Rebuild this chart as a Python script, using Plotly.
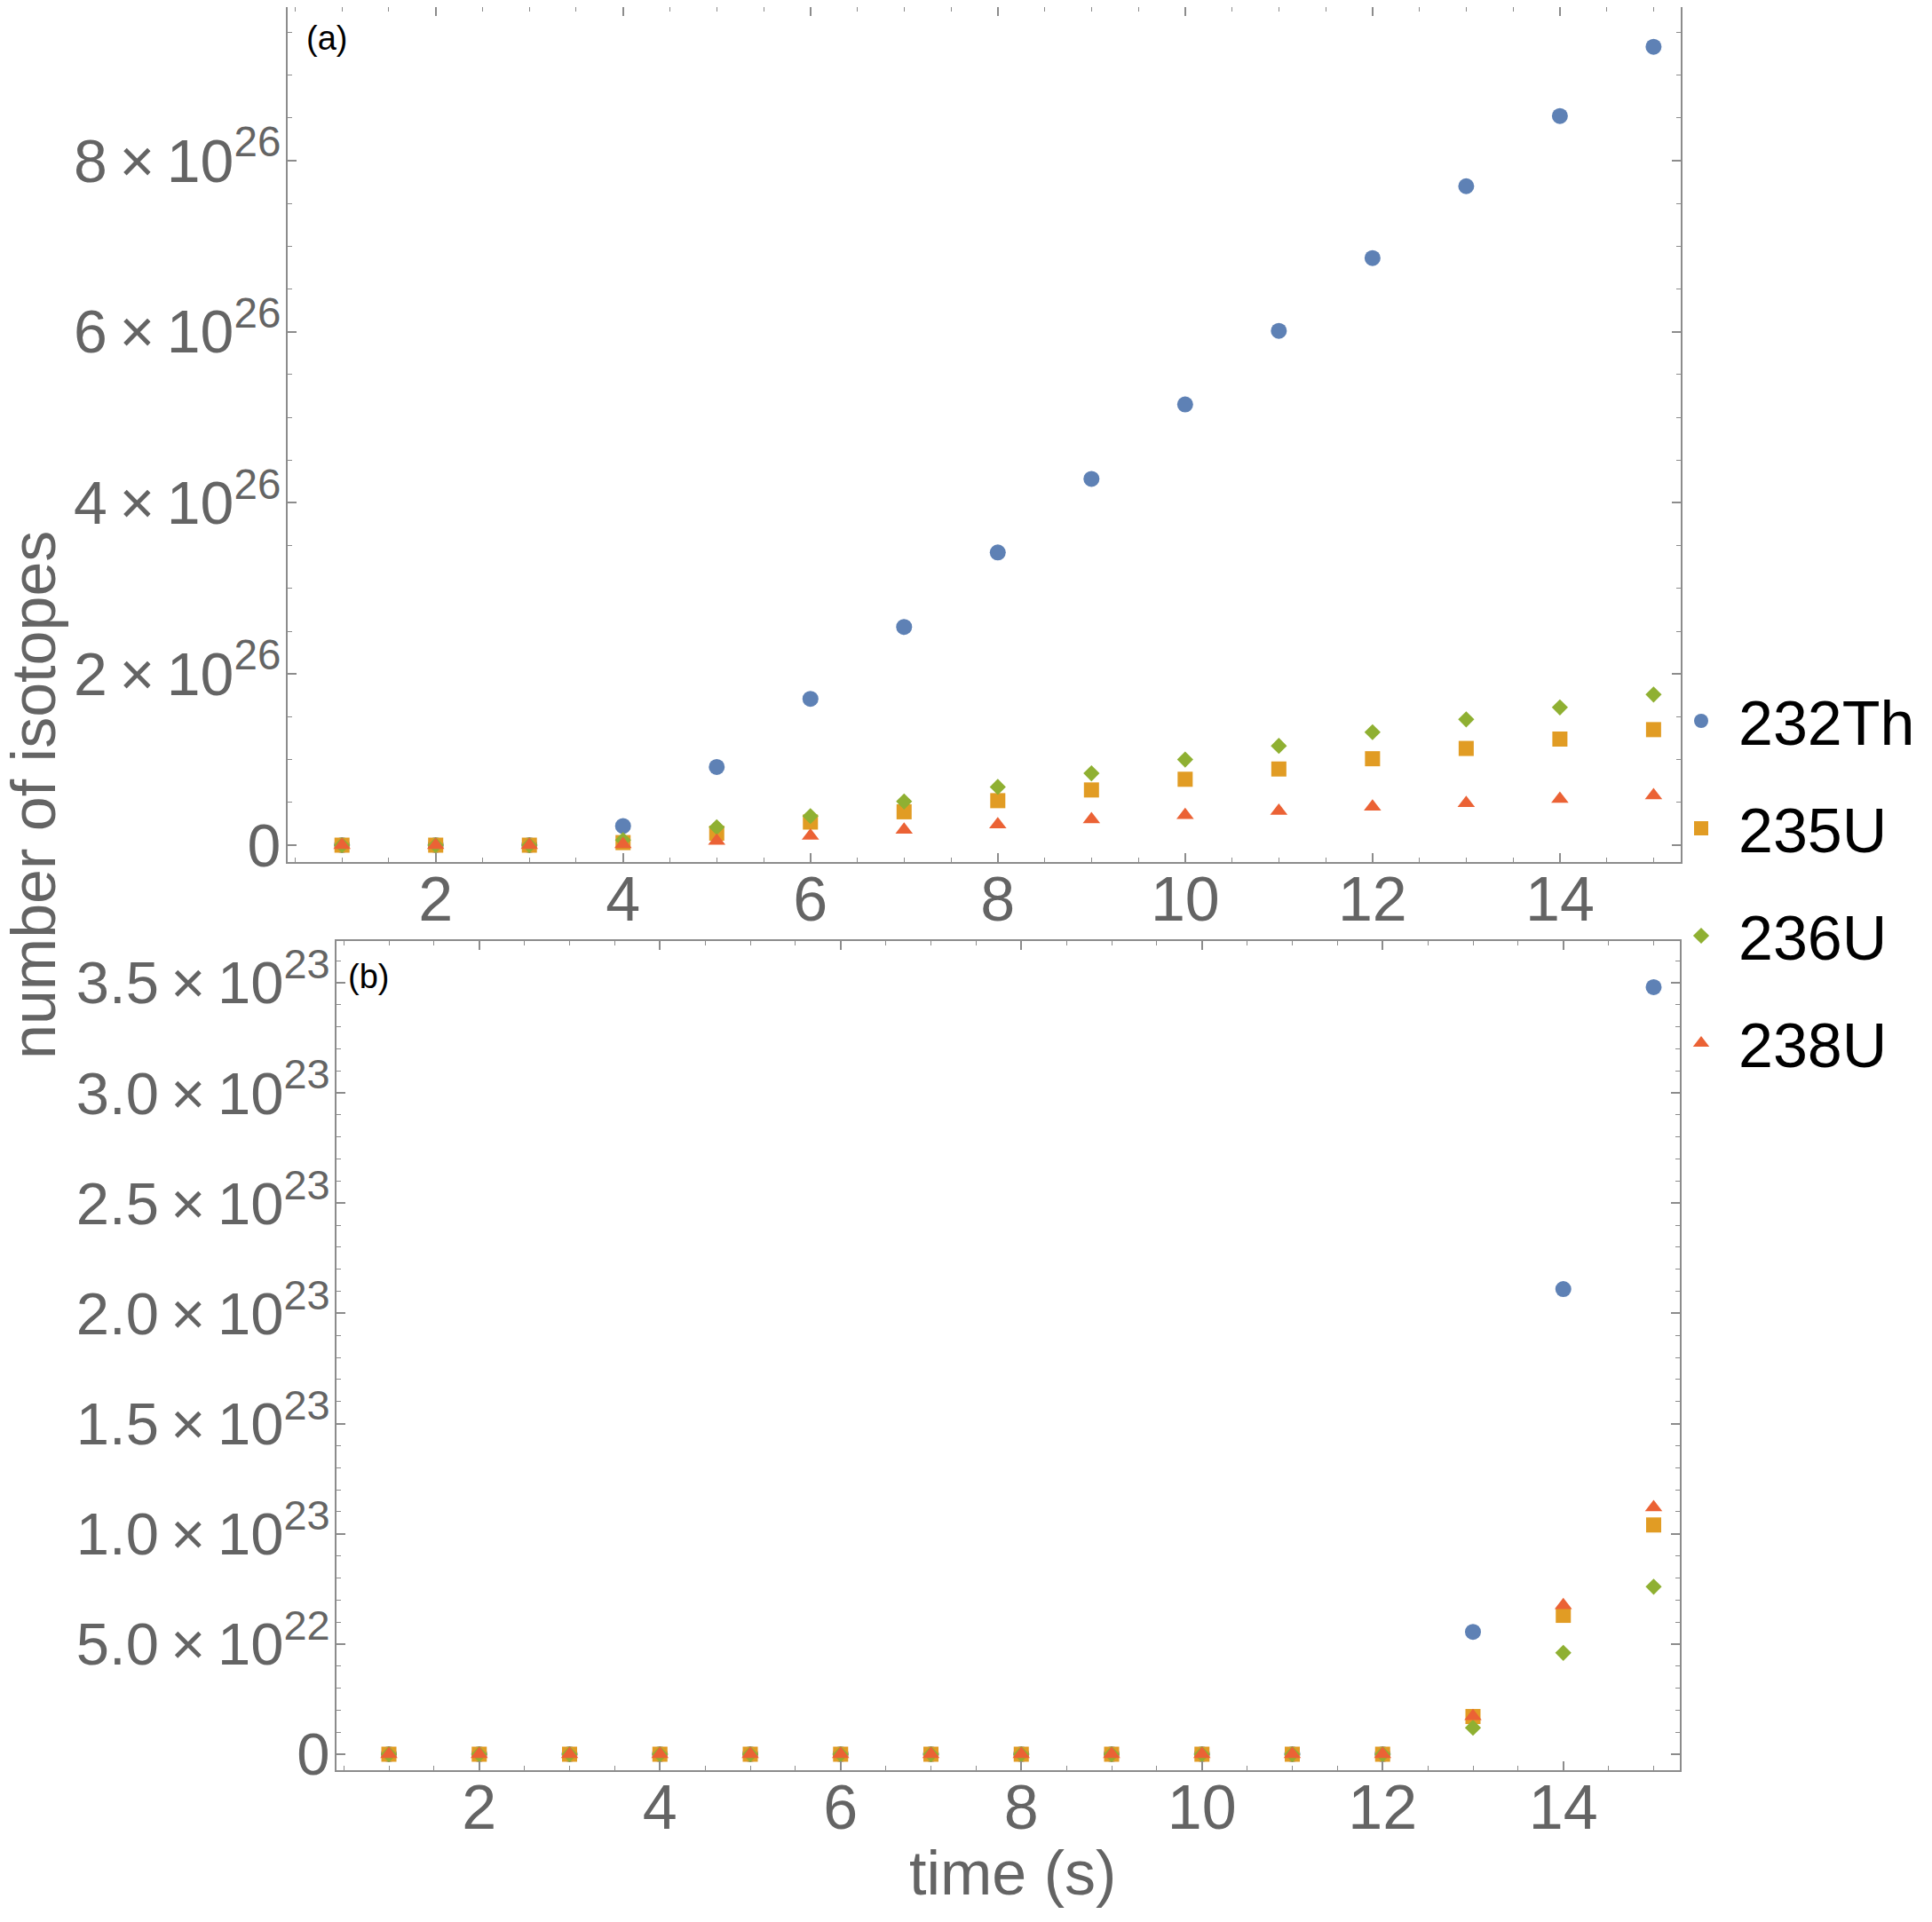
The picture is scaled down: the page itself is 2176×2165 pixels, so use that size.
import plotly.graph_objects as go

# ---- data ----
time_s = list(range(1, 16))

# panel (a), units of 1e26 isotopes
th232_a = [0, 0, 0, 0.224, 0.914, 1.71, 2.55, 3.42, 4.28, 5.15, 6.01, 6.86, 7.70, 8.52, 9.33]
u235_a = [0, 0, 0, 0.03, 0.14, 0.27, 0.39, 0.52, 0.645, 0.77, 0.89, 1.01, 1.13, 1.24, 1.35]
u236_a = [0, 0, 0, 0.06, 0.21, 0.34, 0.51, 0.68, 0.84, 1.00, 1.16, 1.32, 1.47, 1.61, 1.76]
u238_a = [0, 0, 0, 0.01, 0.05, 0.11, 0.18, 0.24, 0.30, 0.35, 0.40, 0.45, 0.49, 0.54, 0.58]

# panel (b), units of 1e22 isotopes
th232_b = [0] * 12 + [5.55, 21.1, 34.8]
u235_b = [0] * 12 + [1.71, 6.3, 10.4]
u236_b = [0] * 12 + [1.2, 4.6, 7.6]
u238_b = [0] * 12 + [1.72, 6.76, 11.2]

ytick_a = [0, 2, 4, 6, 8]
ytick_b = [0, 0.5, 1.0, 1.5, 2.0, 2.5, 3.0, 3.5]

names = ["232Th", "235U", "236U", "238U"]
colors = ["#5E81B5", "#E19C24", "#8FB032", "#EB6235"]
symbols = ["circle", "square", "diamond", "triangle-up"]
sizes = [18, 17, 14, 17]

W, H = 2176, 2165
OFF = 8  # page body margin
FONT = "Liberation Sans, Arial, sans-serif"
GRAY = "#646464"
FRAME = "#8c8c8c"
TS = "\u2009"  # thin space in tick labels


def px_x(p):
    return max(0.0, (p - OFF) / W)


def px_y(p):
    return min(1.0, 1 - (p - OFF) / H)


fig = go.Figure()

series_a = [th232_a, u235_a, u236_a, u238_a]
series_b = [th232_b, u235_b, u236_b, u238_b]
for i, name in enumerate(names):
    mk = dict(symbol=symbols[i], size=sizes[i], color=colors[i], line=dict(width=0))
    fig.add_trace(go.Scatter(
        x=time_s, y=[v * 1e26 for v in series_a[i]], mode="markers",
        marker=mk, name=name, legendgroup=name, showlegend=True,
        xaxis="x", yaxis="y",
    ))
    fig.add_trace(go.Scatter(
        x=time_s, y=[v * 1e22 for v in series_b[i]], mode="markers",
        marker=mk, name=name, legendgroup=name, showlegend=False,
        xaxis="x2", yaxis="y2",
    ))

axis_common = dict(
    showline=True, linecolor=FRAME, linewidth=2, mirror="allticks",
    ticks="inside", ticklen=10, tickwidth=1.5, tickcolor=FRAME,
    showgrid=False, zeroline=False, automargin=False,
    tickfont=dict(family=FONT, size=70, color=GRAY),
)

x_common = dict(
    axis_common, range=[0.42, 15.29], tickmode="linear", tick0=0, dtick=2,
    ticklabelstandoff=-20,
    minor=dict(ticks="inside", ticklen=5, tick0=0, dtick=0.5, tickcolor=FRAME, tickwidth=1),
)

fig.update_layout(
    xaxis=dict(x_common, domain=[px_x(324), px_x(1893)], anchor="y"),
    yaxis=dict(
        axis_common, domain=[px_y(971), px_y(8)], anchor="x",
        range=[-0.197e26, 9.793e26],
        tickmode="array", tickvals=[v * 1e26 for v in ytick_a],
        ticktext=["0"] + [f"{v}{TS}×{TS}10<sup>26</sup>" for v in ytick_a[1:]],
        tickfont=dict(family=FONT, size=68, color=GRAY),
        ticklabelstandoff=-8,
        minor=dict(ticks="inside", ticklen=5, tick0=0, dtick=0.5e26, tickcolor=FRAME, tickwidth=1),
    ),
    xaxis2=dict(x_common, domain=[px_x(379), px_x(1892)], anchor="y2"),
    yaxis2=dict(
        axis_common, domain=[px_y(1994), px_y(1060)], anchor="x2",
        range=[-0.725e22, 36.89e22],
        tickmode="array", tickvals=[v * 1e23 for v in ytick_b],
        ticktext=["0", f"5.0{TS}×{TS}10<sup>22</sup>"]
        + [f"{v:.1f}{TS}×{TS}10<sup>23</sup>" for v in ytick_b[2:]],
        tickfont=dict(family=FONT, size=67, color=GRAY),
        ticklabelstandoff=-8,
        minor=dict(ticks="inside", ticklen=5, tick0=0, dtick=1e22, tickcolor=FRAME, tickwidth=1),
    ),
    width=W, height=H,
    margin=dict(l=0, r=0, t=0, b=0),
    paper_bgcolor="white", plot_bgcolor="white",
    legend=dict(
        x=px_x(1874), y=px_y(760), xanchor="left", yanchor="top",
        font=dict(family=FONT, size=70, color="black"),
        tracegroupgap=27, itemsizing="trace", itemwidth=74,
        bgcolor="rgba(0,0,0,0)",
    ),
    showlegend=True,
)

annots = [
    dict(text="(a)", x=px_x(368), y=px_y(43), font=dict(size=38, color="black", family=FONT)),
    dict(text="(b)", x=px_x(415), y=px_y(1100), font=dict(size=38, color="black", family=FONT)),
    dict(text="time (s)", x=px_x(1140), y=px_y(2110), font=dict(size=70, color=GRAY, family=FONT)),
    dict(text="number of isotopes", x=px_x(38), y=px_y(896), textangle=-90,
         font=dict(size=70, color=GRAY, family=FONT)),
]
for a in annots:
    fig.add_annotation(xref="paper", yref="paper", showarrow=False,
                       xanchor="center", yanchor="middle", **a)

fig.write_html("out.html")
